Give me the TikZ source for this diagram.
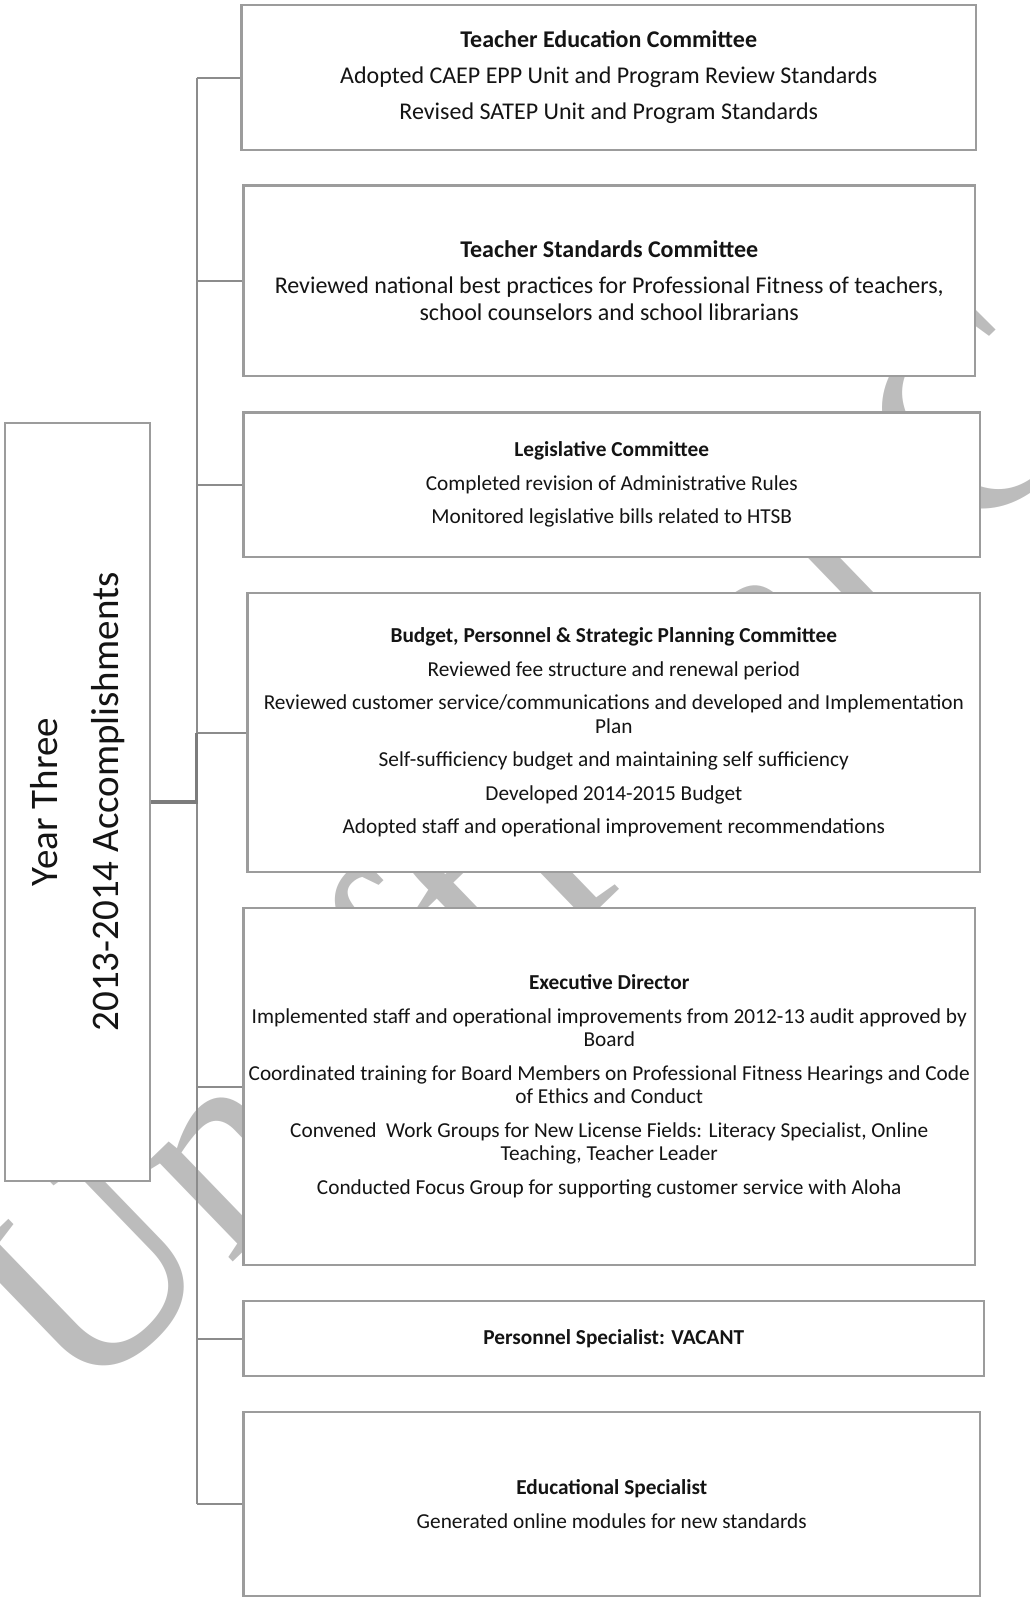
\documentclass[tikz,border=0pt]{standalone}
\usepackage{fontspec}
\setmainfont{Carlito}
\newfontfamily\wmfont{Liberation Serif}
\definecolor{boxline}{HTML}{9C9C9C}
\definecolor{connc}{HTML}{8C8C8C}
\definecolor{connd}{HTML}{7C7C7C}
\definecolor{wmc}{HTML}{BCBCBC}
\definecolor{txt}{HTML}{141414}
\newcommand\fntBig{\fontsize{24}{27.5}\selectfont}
\newcommand\fntMid{\fontsize{21.3}{23.5}\selectfont}
\newcommand\fntYear{\fontsize{39}{61}\selectfont}
\newcommand\fntWm{\fontsize{285}{285}\selectfont}
\begin{document}
\begin{tikzpicture}[x=1pt,y=-1pt,
  box/.style={draw=boxline, line width=2.4pt, fill=white, align=center,
    inner sep=0pt, text=txt, anchor=center},
  conn/.style={draw=connc, line width=2pt},
  connthick/.style={draw=connd, line width=3.6pt},
  watermark/.style={text=wmc, inner sep=0pt, anchor=base west, rotate=44, font=\wmfont\fntWm}]
\useasboundingbox (0,0) rectangle (1029,1598);
% watermark (behind everything)
\node[watermark] (wm) at (80,1410) {Unofficial Copy};
% trunk coordinate
\coordinate (tx) at (196.6,0);
% boxes
\node[box, minimum width=734.5pt, minimum height=145pt, font=\fntBig] (b1) at (608.75,77.5)
  {\textbf{Teacher Education Committee}\\[8.5pt]Adopted CAEP EPP Unit and Program Review Standards\\[8.5pt]Revised SATEP Unit and Program Standards};
\node[box, minimum width=731.5pt, minimum height=190.5pt, font=\fntBig] (b2) at (609.25,280.75)
  {\textbf{Teacher Standards Committee}\\[8pt]Reviewed national best practices for Professional Fitness of teachers,\\school counselors and school librarians};
\node[box, minimum width=736.5pt, minimum height=144.4pt, font=\fntMid] (b3) at (611.75,484.8)
  {\textbf{Legislative Committee}\\[10pt]Completed revision of Administrative Rules\\[10pt]Monitored legislative bills related to HTSB};
\node[box, minimum width=732.4pt, minimum height=279pt, font=\fntMid] (b4) at (613.8,732.5)
  {\textbf{Budget, Personnel \& Strategic Planning Committee}\\[10pt]Reviewed fee structure and renewal period\\[10pt]Reviewed customer service/communications and developed and Implementation\\Plan\\[10pt]Self-sufficiency budget and maintaining self sufficiency\\[10pt]Developed 2014-2015 Budget\\[10pt]Adopted staff and operational improvement recommendations};
\node[box, minimum width=731.5pt, minimum height=357pt, font=\fntMid] (b5) at (609.25,1086.5)
  {\textbf{Executive Director}\\[10pt]Implemented staff and operational improvements from 2012-13 audit approved by\\Board\\[10pt]Coordinated training for Board Members on Professional Fitness Hearings and Code\\of Ethics and Conduct\\[10pt]Convened\ \ Work Groups for New License Fields: Literacy Specialist, Online\\Teaching, Teacher Leader\\[10pt]Conducted Focus Group for supporting customer service with Aloha};
\node[box, minimum width=740.5pt, minimum height=75pt, font=\fntMid] (b6) at (613.75,1338.5)
  {\textbf{Personnel Specialist: VACANT}};
\node[box, minimum width=736.5pt, minimum height=184pt, font=\fntMid] (b7) at (611.75,1504)
  {\textbf{Educational Specialist}\\[10pt]Generated online modules for new standards};
\node[box, minimum width=145pt, minimum height=758pt] (year) at (77.5,802) {};
\node[rotate=90, align=center, text=txt, font=\fntYear, inner sep=0pt] (yeartxt) at (year.center)
  {Year Three\\2013-2014 Accomplishments};
% connectors
\draw[conn] (b1.west -| tx) -- (b7.west -| tx);
\foreach \b in {b1,b2,b3,b4,b5,b6,b7}{
  \draw[conn] (\b.west -| tx) -- (\b.west);
}
\draw[connthick] (year.east) -- (year.east -| tx) -- (b4.west -| tx);
\end{tikzpicture}
\end{document}
